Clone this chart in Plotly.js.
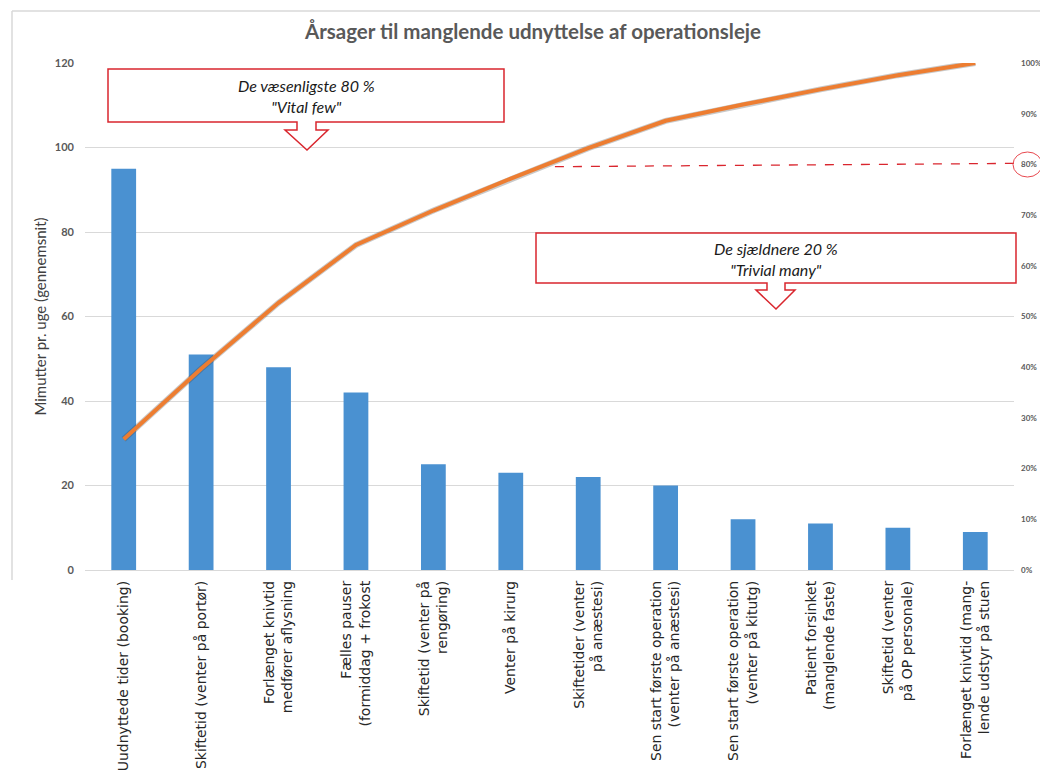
<!DOCTYPE html>
<html>
<head>
<meta charset="utf-8">
<script src="https://cdn.plot.ly/plotly-3.0.1.min.js"></script>
<style>
  html, body { margin: 0; padding: 0; background: #ffffff; }
  #chart { width: 1040px; height: 771px; }
</style>
</head>
<body>
<div id="chart"></div>
<script>
// Causes of unused operating-room time, minutes per week (average)
const categories = [
  "Uudnyttede tider (booking)",
  "Skiftetid (venter på portør)",
  "Forlænget knivtid<br>medfører aflysning",
  "Fælles pauser<br>(formiddag + frokost",
  "Skiftetid (venter på<br>rengøring)",
  "Venter på kirurg",
  "Skiftetider (venter<br>på anæstesi)",
  "Sen start første operation<br>(venter på anæstesi)",
  "Sen start første operation<br>(venter på kitutg)",
  "Patient forsinket<br>(manglende faste)",
  "Skiftetid (venter<br>på OP personale)",
  "Forlænget knivtid (mang-<br>lende udstyr på stuen"
];
const minutesPerWeek = [95, 51, 48, 42, 25, 23, 22, 20, 12, 11, 10, 9];
const cumulativeShare = [0.258, 0.397, 0.527, 0.641, 0.709, 0.772, 0.832, 0.886, 0.918, 0.948, 0.976, 1.0];
const leftTicks = [0, 20, 40, 60, 80, 100, 120];
const rightTicks = [0, 0.1, 0.2, 0.3, 0.4, 0.5, 0.6, 0.7, 0.8, 0.9, 1.0];

const chartTitle = "Årsager til manglende udnyttelse af operationsleje";
const yTitle = "Mimutter pr. uge (gennemsnit)";
const vitalText = "De væsenligste 80 %<br>\"Vital few\"";
const trivialText = "De sjældnere 20 %<br>\"Trivial many\"";

// plot area in pixels
const W = 1040, H = 771;
const L = 85, R = 1014, T = 63, B = 570;
const px = x => (x - L) / (R - L);
const py = y => (B - y) / (B - T);

// box with a notched down-arrow underneath, in paper coordinates
function callout(x0, y0, x1, y1, sL, sR, sB, hL, hR, tipX, tipY) {
  const pts = [[x0, y0], [x1, y0], [x1, y1], [sR, y1], [sR, sB], [hR, sB],
               [tipX, tipY], [hL, sB], [sL, sB], [sL, y1], [x0, y1]];
  return "M" + pts.map(p => px(p[0]).toFixed(5) + "," + py(p[1]).toFixed(5)).join(" L") + " Z";
}

const red = "#d9262e";
const grey = "#595959";
const uiFont = "Lato, 'Open Sans', sans-serif";

const bars = {
  type: "bar",
  x: categories,
  y: minutesPerWeek,
  width: 0.32,
  marker: { color: "#4a91d1", line: { width: 0 } },
  hoverinfo: "x+y"
};

// soft shadow under the cumulative curve
const cumShadow = {
  type: "scatter",
  mode: "lines",
  x: categories,
  y: cumulativeShare,
  yaxis: "y2",
  line: { color: "rgba(60,60,60,0.28)", width: 6 },
  hoverinfo: "skip"
};

const cumLine = {
  type: "scatter",
  mode: "lines",
  x: categories,
  y: cumulativeShare,
  yaxis: "y2",
  line: { color: "#ed7d31", width: 4 },
  hoverinfo: "x+y"
};

const layout = {
  width: W,
  height: H,
  paper_bgcolor: "#ffffff",
  plot_bgcolor: "#ffffff",
  showlegend: false,
  margin: { l: L, r: W - R, t: T, b: H - B, pad: 0 },
  font: { family: uiFont, color: grey },
  title: {
    text: "<b>" + chartTitle + "</b>",
    font: { family: uiFont, size: 20.5, color: "#595959" },
    x: 533 / W, xanchor: "center",
    y: 1 - 32 / H, yanchor: "middle"
  },
  xaxis: {
    type: "category",
    range: [-0.5, 11.5],
    automargin: false,
    showgrid: false,
    showline: false,
    zeroline: false,
    ticks: "",
    tickangle: -90,
    ticklabelstandoff: 7,
    tickfont: { family: "'DejaVu Sans', sans-serif", size: 14, color: "#262626" }
  },
  yaxis: {
    range: [0, 120],
    tickvals: leftTicks,
    automargin: false,
    showgrid: true,
    gridcolor: "#d9d9d9",
    gridwidth: 1,
    zeroline: true,
    zerolinecolor: "#d9d9d9",
    zerolinewidth: 1,
    showline: false,
    ticks: "",
    ticklabelstandoff: 10,
    tickfont: { family: uiFont, size: 11, color: grey, weight: "bold" },
    title: {
      text: yTitle,
      standoff: 4,
      font: { family: uiFont, size: 15, color: "#404040" }
    }
  },
  yaxis2: {
    overlaying: "y",
    side: "right",
    range: [0, 1],
    tickvals: rightTicks,
    tickformat: ".0%",
    automargin: false,
    showgrid: false,
    zeroline: false,
    showline: false,
    ticks: "",
    ticklabelstandoff: 6,
    tickfont: { family: uiFont, size: 8, color: grey, weight: "bold" }
  },
  shapes: [
    // frame edges
    { type: "line", xref: "paper", yref: "paper", x0: px(12), x1: px(1040), y0: py(11), y1: py(11),
      line: { color: "#d9d9d9", width: 1.5 } },
    { type: "line", xref: "paper", yref: "paper", x0: px(12), x1: px(12), y0: py(11), y1: py(580),
      line: { color: "#d9d9d9", width: 1.5 } },
    // 80 % threshold
    { type: "line", xref: "x", yref: "y2", x0: 5.57, x1: 11.5, y0: 0.7955, y1: 0.802,
      line: { color: red, width: 1.3, dash: "dash" } },
    { type: "circle", xref: "paper", yref: "paper", x0: px(1013), x1: px(1042), y0: py(177), y1: py(152),
      line: { color: "#e8494f", width: 1 } },
    // callouts
    { type: "path", xref: "paper", yref: "paper",
      path: callout(108, 69, 504, 122, 297, 316, 130, 285, 328, 307, 150),
      fillcolor: "#ffffff", line: { color: red, width: 1.5 } },
    { type: "path", xref: "paper", yref: "paper",
      path: callout(536, 233, 1016, 283, 767, 785, 290, 756, 795, 776, 309),
      fillcolor: "#ffffff", line: { color: red, width: 1.5 } }
  ],
  annotations: [
    { xref: "paper", yref: "paper", x: px(306), y: py(95.5), xanchor: "center", yanchor: "middle",
      text: vitalText, showarrow: false,
      font: { family: uiFont, size: 16, color: "#1a1a1a", style: "italic" } },
    { xref: "paper", yref: "paper", x: px(776), y: py(259), xanchor: "center", yanchor: "middle",
      text: trivialText, showarrow: false,
      font: { family: uiFont, size: 16, color: "#1a1a1a", style: "italic" } }
  ]
};

Plotly.newPlot("chart", [bars, cumShadow, cumLine], layout, { displayModeBar: false, staticPlot: true });
</script>
</body>
</html>
